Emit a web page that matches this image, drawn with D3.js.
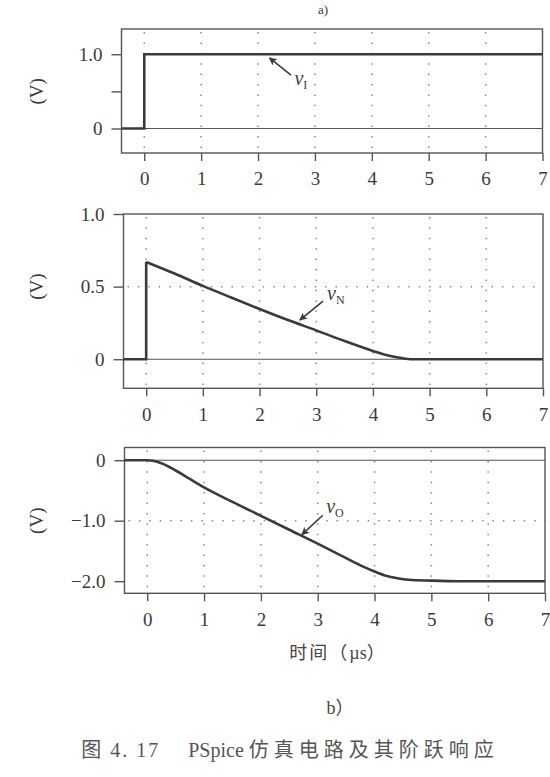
<!DOCTYPE html>
<html><head><meta charset="utf-8">
<script src="https://cdn.jsdelivr.net/npm/d3@7/dist/d3.min.js"></script>
<style>body{margin:0;background:#fff}svg{display:block}</style>
</head><body>
<svg id="c" width="550" height="777"></svg>
<script>
// ---------- data ----------
const timeTicks = [0, 1, 2, 3, 4, 5, 6, 7];
const timeTickLabels = ["0", "1", "2", "3", "4", "5", "6", "7"];

const vI_t = [-0.4, 0, 0, 7];
const vI_v = [0, 0, 1.0, 1.0];

const vN_t = [-0.4, 0, 0, 0.5, 1, 1.5, 2, 2.5, 3, 3.5, 4, 4.25, 4.5, 4.7, 5, 7];
const vN_v = [0, 0, 0.67, 0.59, 0.505, 0.425, 0.346, 0.27, 0.199, 0.125, 0.057, 0.027, 0.008, 0, 0, 0];

const vO_t = [-0.4, 0, 0.1, 0.25, 0.5, 0.75, 1, 1.5, 2, 2.5, 3, 3.5, 3.8, 4, 4.2, 4.4, 4.6, 5, 5.5, 7];
const vO_v = [0, 0, -0.01, -0.05, -0.17, -0.31, -0.45, -0.69, -0.92, -1.15, -1.38, -1.62, -1.76, -1.84, -1.91, -1.95, -1.975, -1.99, -2.0, -2.0];

const yTicksI = [0, 0.5, 1.0];   const yLabelsI = ["0", "", "1.0"];
const yTicksN = [0, 0.5, 1.0];   const yLabelsN = ["0", "0.5", "1.0"];
const yTicksO = [0, -1.0, -2.0]; const yLabelsO = ["0", "\u22121.0", "\u22122.0"];

// ---------- layout ----------
const panels = [
  { t: vI_t, v: vI_v, jump: true, smooth: false, yDomain: [-0.33, 1.34], yTicks: yTicksI, yLabels: yLabelsI, hGrid: [],
    box: { l: 121.5, r: 542.5, t: 29, b: 153 }, unitY: 0.5,
    sub: "I", head: [2.20, 0.95], tail: [2.58, 0.72], txt: [2.64, 0.585] },
  { t: vN_t, v: vN_v, jump: true, smooth: true, yDomain: [-0.2, 1.0], yTicks: yTicksN, yLabels: yLabelsN, hGrid: [0.5],
    box: { l: 123.5, r: 543, t: 214, b: 388.3 }, unitY: 0.5,
    sub: "N", head: [2.71, 0.27], tail: [3.12, 0.40], txt: [3.19, 0.41] },
  { t: vO_t, v: vO_v, jump: false, smooth: true, yDomain: [-2.2, 0.21], yTicks: yTicksO, yLabels: yLabelsO, hGrid: [-1.0],
    box: { l: 124.5, r: 545, t: 447.5, b: 593.3 }, unitY: -1.0,
    sub: "O", head: [2.72, -1.23], tail: [3.09, -0.91], txt: [3.15, -0.87] }
];

const svg = d3.select("#c");
const ink = "#3a3a3a";
const serif = "'Liberation Serif','Times New Roman',serif";
const cjk = "'Liberation Serif','Noto Sans CJK SC',serif";

svg.append("defs").append("marker")
  .attr("id", "ah").attr("markerUnits", "userSpaceOnUse")
  .attr("viewBox", "0 0 10 10").attr("refX", 9).attr("refY", 5)
  .attr("markerWidth", 9).attr("markerHeight", 8).attr("orient", "auto")
  .append("path").attr("d", "M0,0L10,5L0,10L2.5,5Z").attr("fill", ink);

panels.forEach(p => {
  const x = d3.scaleLinear().domain([-0.4, 7]).range([p.box.l, p.box.r]);
  const y = d3.scaleLinear().domain(p.yDomain).range([p.box.b, p.box.t]);
  const g = svg.append("g");

  g.selectAll(".vg").data(timeTicks.filter(d => d < 7)).join("line")
    .attr("x1", d => x(d)).attr("x2", d => x(d))
    .attr("y1", p.box.t + 3).attr("y2", p.box.b)
    .attr("stroke", "#8a8a8a").attr("stroke-width", 1.5)
    .attr("stroke-dasharray", "1.5 8.9");
  g.selectAll(".hg").data(p.hGrid).join("line")
    .attr("x1", p.box.l + 4).attr("x2", p.box.r)
    .attr("y1", d => y(d)).attr("y2", d => y(d))
    .attr("stroke", "#8a8a8a").attr("stroke-width", 1.5)
    .attr("stroke-dasharray", "1.5 8.9");
  g.append("line").attr("x1", p.box.l).attr("x2", p.box.r)
    .attr("y1", y(0)).attr("y2", y(0))
    .attr("stroke", "#555").attr("stroke-width", 1.1);

  g.append("rect").attr("x", p.box.l).attr("y", p.box.t)
    .attr("width", p.box.r - p.box.l).attr("height", p.box.b - p.box.t)
    .attr("fill", "none").attr("stroke", "#555").attr("stroke-width", 1.4);

  const xa = g.append("g").attr("transform", `translate(0,${p.box.b})`)
    .call(d3.axisBottom(x).tickValues(timeTicks).tickFormat((d, i) => timeTickLabels[i]).tickSize(8).tickPadding(11));
  const ya = g.append("g").attr("transform", `translate(${p.box.l},0)`)
    .call(d3.axisLeft(y).tickValues(p.yTicks).tickFormat((d, i) => p.yLabels[i]).tickSize(10).tickPadding(9));
  [xa, ya].forEach(a => {
    a.select(".domain").remove();
    a.selectAll(".tick line").attr("stroke", "#555").attr("stroke-width", 1.4);
    a.selectAll("text").attr("fill", ink).attr("font-family", null).style("font-family", serif).style("font-size", "19px");
  });

  g.append("text").attr("transform", `translate(36,${y(p.unitY)}) rotate(-90)`)
    .attr("text-anchor", "middle").attr("dominant-baseline", "central")
    .attr("fill", ink).style("font-family", serif).style("font-size", "19px").text("(V)");

  const pts = p.t.map((t, i) => [t, p.v[i]]);
  const lin = d3.line().x(d => x(d[0])).y(d => y(d[1]));
  if (p.jump && p.smooth) {
    g.append("path").attr("d", lin(pts.slice(0, 3))).attr("fill", "none").attr("stroke", ink).attr("stroke-width", 2.6);
    g.append("path").attr("d", lin.curve(d3.curveMonotoneX)(pts.slice(2))).attr("fill", "none").attr("stroke", ink).attr("stroke-width", 2.6);
  } else if (p.smooth) {
    g.append("path").attr("d", lin.curve(d3.curveMonotoneX)(pts)).attr("fill", "none").attr("stroke", ink).attr("stroke-width", 2.6);
  } else {
    g.append("path").attr("d", lin(pts)).attr("fill", "none").attr("stroke", ink).attr("stroke-width", 2.6);
  }

  g.append("line").attr("x1", x(p.tail[0])).attr("y1", y(p.tail[1]))
    .attr("x2", x(p.head[0])).attr("y2", y(p.head[1]))
    .attr("stroke", ink).attr("stroke-width", 1.6).attr("marker-end", "url(#ah)");
  const tx = g.append("text").attr("x", x(p.txt[0])).attr("y", y(p.txt[1]))
    .attr("fill", ink).style("font-family", serif);
  tx.append("tspan").style("font-style", "italic").style("font-size", "20px").text("v");
  tx.append("tspan").attr("dy", 4).style("font-size", "12px").text(p.sub);
});

// captions
svg.append("text").attr("x", 323).attr("y", 14).attr("text-anchor", "middle")
  .attr("fill", ink).style("font-family", serif).style("font-size", "13px").text("a)");

const t1 = svg.append("text").attr("x", 337).attr("y", 659).attr("text-anchor", "middle")
  .attr("fill", "#444").style("font-family", cjk).style("font-size", "18px");
t1.append("tspan").style("letter-spacing", "2px").text("时间（");
t1.append("tspan").text("µs");
t1.append("tspan").text("）");

svg.append("text").attr("x", 340).attr("y", 714).attr("text-anchor", "middle")
  .attr("fill", "#444").style("font-family", cjk).style("font-size", "18px")
  .text("b）");

const t2 = svg.append("text").attr("x", 290).attr("y", 757).attr("text-anchor", "middle")
  .attr("fill", "#555").style("font-family", cjk).style("font-size", "20px")
  .attr("xml:space", "preserve");
t2.append("tspan").style("letter-spacing", "2px").text("图 4. 17    ");
t2.append("tspan").text("PSpice ");
t2.append("tspan").style("letter-spacing", "5px").text("仿真电路及其阶跃响应");
</script>
</body></html>
